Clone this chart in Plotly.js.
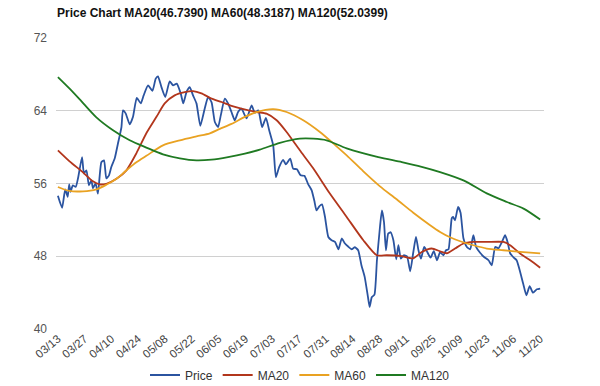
<!DOCTYPE html>
<html>
<head>
<meta charset="utf-8">
<script src="https://cdn.plot.ly/plotly-3.0.1.min.js"></script>
<style>html,body{margin:0;padding:0;background:#fff;}#chart{width:600px;height:386px;}</style>
</head>
<body>
<div id="chart"></div>
<script>
// Calendar-day offset from 03/13 for each tick label
const tickDays = [0,14,28,42,56,70,84,98,112,126,140,154,168,182,196,210,224,238,252];
const tickLabels = ["03/13","03/27","04/10","04/24","05/08","05/22","06/05","06/19","07/03","07/17","07/31","08/14","08/28","09/11","09/25","10/09","10/23","11/06","11/20"];

const priceDays = [0,2.2,3.8,5.1,5.9,6.6,7.8,9.3,10.5,12.6,13.6,14.9,16.2,17.5,18.3,19.7,20.9,22.7,24.1,25.3,26.7,27.9,29.7,31.4,33.2,34.0,35.4,37.5,39.2,41.2,43.3,44.8,47.1,49.4,51.1,52.3,54.1,56.1,58.4,60.2,62.1,64.2,65.5,67.3,68.9,70.6,72.4,74.4,76.7,78.5,80.3,82.0,83.7,85.1,87.2,88.9,90.7,92.4,94.2,95.9,98.6,101.2,102.9,104.7,106.7,108.7,110.4,112.5,113.9,115.6,117.7,119.1,121.4,122.9,124.9,126.8,128.8,130.8,132.6,134.0,135.1,136.6,138.0,139.5,141.3,143.0,144.8,146.6,148.3,150.0,151.8,153.5,155.2,156.9,158.6,160.3,162.0,162.9,164.0,165.4,166.7,168.3,169.3,170.4,171.4,172.6,173.9,175.3,176.8,177.9,179.2,180.7,182.4,184.1,185.7,187.1,188.4,189.7,191.4,193.0,194.7,196.4,198.1,199.7,201.4,202.8,204.1,205.8,206.5,207.5,209.1,210.4,211.9,213.7,215.4,217.1,218.5,220.6,222.7,225.0,226.7,228.5,230.2,232.0,233.7,235.0,236.3,238.0,239.7,241.3,243.1,244.8,246.5,248.3,250.3,252];
const priceValues = [54.65,53.33,55.36,54.54,55.91,55.09,55.80,55.62,56.57,58.91,57.12,57.45,55.80,56.35,55.47,56.02,54.89,58.33,58.55,56.57,56.90,57.81,58.77,60.42,62.21,64.04,63.71,62.51,63.31,65.42,64.81,65.69,66.79,66.19,67.53,67.78,66.60,65.51,67.23,66.79,66.98,65.88,64.81,66.13,66.60,65.69,64.81,62.34,64.23,65.53,64.92,62.76,62.21,63.49,65.33,64.81,63.86,62.95,63.88,64.23,63.16,64.59,63.77,64.04,62.21,63.22,61.85,60.20,56.71,57.81,58.60,58.11,58.74,57.64,57.56,56.90,56.85,55.91,55.25,54.10,53.05,53.49,53.71,52.40,50.12,49.76,49.57,48.77,49.95,49.40,49.04,48.77,48.99,48.66,47.01,45.73,43.53,42.43,43.49,43.77,47.56,51.24,53.05,51.74,48.66,50.49,50.64,49.76,47.67,49.21,47.75,48.11,48.00,46.35,48.44,50.12,48.66,47.73,49.02,48.47,47.84,48.55,47.56,48.44,48.11,48.66,48.77,52.18,52.32,51.96,53.42,52.78,49.98,49.02,48.77,50.31,49.02,48.38,47.92,47.56,47.01,49.02,48.88,49.57,50.31,49.54,48.33,47.89,47.56,46.46,45.00,43.71,44.70,43.99,44.37,44.45];

const ma20Days = [0,6.1,13.1,18.3,21.8,25.3,30.6,35.8,41.0,46.2,51.5,55.8,61.0,66.3,70.6,75.0,80.3,85.5,90.7,95.9,103.8,109.0,114.3,119.5,126.4,133.4,142.1,150.9,159.6,166.6,171.8,178.8,185.7,190.1,195.3,199.7,203.2,207.5,211.9,217.1,224.1,232.8,236.3,241.5,246.8,252];
const ma20Values = [59.65,58.44,57.23,56.24,55.91,55.97,56.52,57.45,59.32,61.52,63.33,64.81,65.69,66.05,66.16,65.91,65.33,64.96,64.54,64.23,63.86,63.68,62.95,61.66,59.65,57.67,54.89,52.32,49.76,48.11,48.11,48.05,47.78,48.47,48.85,48.55,48.33,48.85,49.40,49.57,49.57,49.57,49.21,48.30,47.56,46.74];

const ma60Days = [0,6.1,13.1,20.1,25.3,30.6,35.8,41.0,46.2,54.9,63.7,72.4,79.4,84.6,90.7,97.7,103.8,112.5,119.5,128.2,136.9,145.6,150.9,159.6,168.3,177.0,185.7,194.5,199.7,204.9,210.2,217.1,224.1,232.8,241.5,252];
const ma60Values = [55.62,55.18,55.14,55.36,55.86,56.52,57.45,58.33,59.04,60.20,60.75,61.19,61.52,62.01,62.56,63.33,63.86,64.18,63.86,62.95,61.66,60.09,59.10,57.34,55.69,54.26,52.78,51.41,50.67,50.09,49.65,49.21,48.85,48.66,48.49,48.32];

const ma120Days = [0,6.1,11.4,20.1,28.8,37.5,46.2,54.9,63.7,72.4,80.3,88.9,97.7,105.5,116.0,126.4,133.4,140.4,150.9,167.4,179.7,190.1,199.7,211.9,224.1,234.6,243.3,252];
const ma120Values = [67.70,66.43,65.25,63.27,61.85,60.75,59.95,59.21,58.77,58.55,58.63,58.91,59.29,59.73,60.47,60.93,60.93,60.75,59.87,58.91,58.36,57.84,57.26,56.35,54.92,53.97,53.24,52.04];

const yTicks = [40,48,56,64,72];

const traces = [
  {name:"Price", x:priceDays, y:priceValues, type:"scatter", mode:"lines", line:{color:"#2b54a0", width:1.8, shape:"spline", smoothing:0.5}},
  {name:"MA20", x:ma20Days, y:ma20Values, type:"scatter", mode:"lines", line:{color:"#b2361c", width:1.8, shape:"spline", smoothing:0.6}},
  {name:"MA60", x:ma60Days, y:ma60Values, type:"scatter", mode:"lines", line:{color:"#e9a222", width:1.8, shape:"spline", smoothing:0.8}},
  {name:"MA120", x:ma120Days, y:ma120Values, type:"scatter", mode:"lines", line:{color:"#1f7a22", width:1.8, shape:"spline", smoothing:0.8}}
];

const layout = {
  width:600, height:386,
  paper_bgcolor:"#ffffff", plot_bgcolor:"#ffffff",
  margin:{l:56, r:56, t:38, b:57},
  title:{text:"<b>Price Chart MA20(46.7390) MA60(48.3187) MA120(52.0399)</b>", font:{family:"Liberation Sans, Arial, sans-serif", size:12, color:"#111"}, x:57/600, xanchor:"left", xref:"container", y:1-13/386, yanchor:"middle", yref:"container"},
  xaxis:{range:[-1,254], tickmode:"array", tickvals:tickDays, ticktext:tickLabels, tickangle:-40, showgrid:false, zeroline:false, showline:false, ticks:"", tickfont:{family:"Liberation Sans, Arial, sans-serif", size:11.5, color:"#444"}},
  yaxis:{range:[40,72], tickmode:"array", tickvals:yTicks, showgrid:true, gridcolor:"#d0d0d0", gridwidth:1, zeroline:false, showline:false, ticks:"", ticklabelstandoff:8, tickfont:{family:"Liberation Sans, Arial, sans-serif", size:12, color:"#555"}},
  showlegend:true,
  legend:{orientation:"h", x:0.5, xanchor:"center", xref:"container", y:1-375/386, yanchor:"middle", yref:"container", font:{family:"Liberation Sans, Arial, sans-serif", size:12, color:"#333"}, itemwidth:30, tracegroupgap:0}
};

Plotly.newPlot("chart", traces, layout, {displayModeBar:false, staticPlot:true});
</script>
</body>
</html>
